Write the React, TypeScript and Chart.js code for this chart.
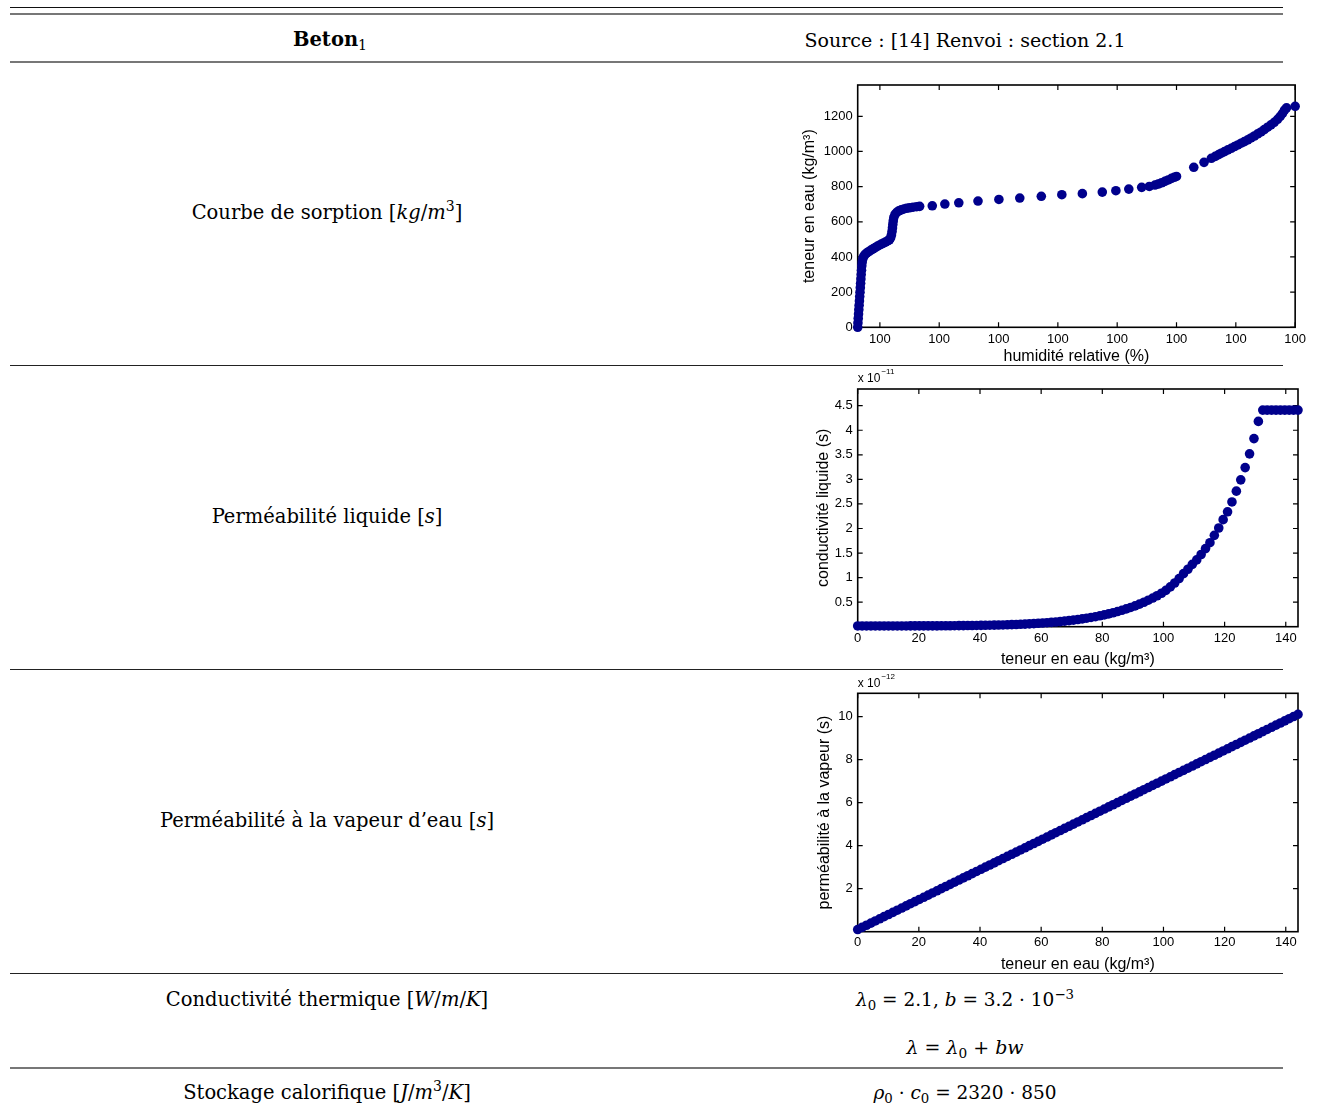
import React, { useEffect, useRef } from 'react';
import { Chart, registerables } from 'chart.js';

Chart.register(...registerables);

// ---------- Chart 1 : courbe de sorption ----------
const sorptionRH = [
  0.2626, 0.2630, 0.2635, 0.2640, 0.2645, 0.2650, 0.2655, 0.2660, 0.2665, 0.2670,
  0.2675, 0.2680, 0.2685, 0.2690, 0.2695, 0.2702, 0.2712, 0.2727, 0.2750, 0.2780,
  0.2815, 0.2850, 0.2885, 0.2920, 0.2955, 0.2990, 0.3025, 0.3060, 0.3095, 0.3130,
  0.3160, 0.3180, 0.3195, 0.3205, 0.3212, 0.3218, 0.3225, 0.3235, 0.3255, 0.3285,
  0.3320, 0.3360, 0.3405, 0.3450, 0.3500, 0.3560, 0.3620, 0.3670,
  0.3883, 0.4095, 0.4330, 0.4654, 0.5006, 0.5358, 0.5721, 0.6067, 0.6413, 0.6749,
  0.6978, 0.7196, 0.7413, 0.7542, 0.7637,
  0.7693, 0.7749, 0.7804, 0.7860, 0.7916, 0.7961, 0.8000,
  0.8291, 0.8464, 0.8587, 0.8654, 0.8710,
  0.8754, 0.8810, 0.8866, 0.8922, 0.8978, 0.9034, 0.9089, 0.9145, 0.9201, 0.9257,
  0.9313, 0.9369, 0.9425, 0.9480, 0.9536, 0.9592, 0.9648, 0.9704, 0.9749, 0.9788,
  0.9821, 0.9855, 1.0,
];
const sorptionW = [
  0, 25, 50, 75, 100, 125, 150, 175, 200, 225,
  250, 275, 300, 325, 350, 372, 390, 403, 414, 423,
  431, 439, 446, 453, 460, 467, 473, 479, 485, 491,
  498, 508, 525, 545, 565, 585, 605, 625, 642, 654,
  662, 668, 673, 677, 680, 683, 686, 688,
  691, 701, 708, 718, 727, 735, 745, 754, 760, 769,
  777, 786, 796, 801, 809,
  815, 822, 830, 838, 847, 853, 858,
  910, 938, 961, 972, 982,
  990, 999, 1009, 1018, 1028, 1037, 1047, 1056, 1066, 1077,
  1088, 1100, 1111, 1124, 1138, 1151, 1166, 1183, 1200, 1217,
  1235, 1248, 1257,
];
const sorptionXTicks = [0.3, 0.4, 0.5, 0.6, 0.7, 0.8, 0.9, 1.0];
const sorptionXTickLabels = ['100', '100', '100', '100', '100', '100', '100', '100'];
const sorptionYTicks = [0, 200, 400, 600, 800, 1000, 1200];
const sorptionYTickLabels = ['0', '200', '400', '600', '800', '1000', '1200'];

// ---------- Charts 2 & 3 : teneur en eau (kg/m3) ----------
const waterContent = [
  0, 1.44, 2.88, 4.32, 5.76, 7.2, 8.64, 10.08, 11.52, 12.96,
  14.4, 15.84, 17.28, 18.72, 20.16, 21.6, 23.04, 24.48, 25.92, 27.36,
  28.8, 30.24, 31.68, 33.12, 34.56, 36, 37.44, 38.88, 40.32, 41.76,
  43.2, 44.64, 46.08, 47.52, 48.96, 50.4, 51.84, 53.28, 54.72, 56.16,
  57.6, 59.04, 60.48, 61.92, 63.36, 64.8, 66.24, 67.68, 69.12, 70.56,
  72, 73.44, 74.88, 76.32, 77.76, 79.2, 80.64, 82.08, 83.52, 84.96,
  86.4, 87.84, 89.28, 90.72, 92.16, 93.6, 95.04, 96.48, 97.92, 99.36,
  100.8, 102.24, 103.68, 105.12, 106.56, 108, 109.44, 110.88, 112.32, 113.76,
  115.2, 116.64, 118.08, 119.52, 120.96, 122.4, 123.84, 125.28, 126.72, 128.16,
  129.6, 131.04, 132.48, 133.92, 135.36, 136.8, 138.24, 139.68, 141.12, 142.56,
  144,
];
// conductivité liquide, en unités de 1e-11 s
const liquidConductivity = [
  0.015, 0.015, 0.015, 0.015, 0.015, 0.015, 0.015, 0.015, 0.015, 0.015,
  0.015, 0.015, 0.016, 0.016, 0.016, 0.016, 0.017, 0.017, 0.017, 0.018,
  0.018, 0.019, 0.020, 0.021, 0.022, 0.023, 0.024, 0.025, 0.026, 0.028,
  0.030, 0.032, 0.034, 0.036, 0.039, 0.042, 0.045, 0.049, 0.053, 0.058,
  0.063, 0.069, 0.075, 0.081, 0.088, 0.096, 0.104, 0.113, 0.123, 0.134,
  0.146, 0.159, 0.173, 0.188, 0.204, 0.222, 0.241, 0.262, 0.284, 0.308,
  0.334, 0.362, 0.392, 0.425, 0.460, 0.498, 0.539, 0.583, 0.630, 0.681,
  0.74, 0.81, 0.89, 0.98, 1.08, 1.17, 1.27, 1.36, 1.47, 1.59,
  1.71, 1.86, 2.01, 2.18, 2.34, 2.54, 2.76, 2.99, 3.24, 3.52,
  3.83, 4.18, 4.41, 4.41, 4.41, 4.41, 4.41, 4.41, 4.41, 4.41,
  4.41,
];
// perméabilité à la vapeur, en unités de 1e-12 s
const vaporPermeability = [
  0.1, 0.2, 0.3, 0.4, 0.5, 0.6, 0.7, 0.8, 0.9, 1.0,
  1.1, 1.2, 1.3, 1.4, 1.5, 1.6, 1.7, 1.8, 1.9, 2.0,
  2.1, 2.2, 2.3, 2.4, 2.5, 2.6, 2.7, 2.8, 2.9, 3.0,
  3.1, 3.2, 3.3, 3.4, 3.5, 3.6, 3.7, 3.8, 3.9, 4.0,
  4.1, 4.2, 4.3, 4.4, 4.5, 4.6, 4.7, 4.8, 4.9, 5.0,
  5.1, 5.2, 5.3, 5.4, 5.5, 5.6, 5.7, 5.8, 5.9, 6.0,
  6.1, 6.2, 6.3, 6.4, 6.5, 6.6, 6.7, 6.8, 6.9, 7.0,
  7.1, 7.2, 7.3, 7.4, 7.5, 7.6, 7.7, 7.8, 7.9, 8.0,
  8.1, 8.2, 8.3, 8.4, 8.5, 8.6, 8.7, 8.8, 8.9, 9.0,
  9.1, 9.2, 9.3, 9.4, 9.5, 9.6, 9.7, 9.8, 9.9, 10.0,
  10.1,
];
const waterTicks = [0, 20, 40, 60, 80, 100, 120, 140];
const waterTickLabels = ['0', '20', '40', '60', '80', '100', '120', '140'];
const liquidTicks = [0.5, 1, 1.5, 2, 2.5, 3, 3.5, 4, 4.5];
const liquidTickLabels = ['0.5', '1', '1.5', '2', '2.5', '3', '3.5', '4', '4.5'];
const vaporTicks = [2, 4, 6, 8, 10];
const vaporTickLabels = ['2', '4', '6', '8', '10'];

const MARKER = '#00008c';
const SANS = '"Liberation Sans", Arial, Helvetica, sans-serif';
const SERIF = '"DejaVu Serif", serif';

const framePlugin = {
  id: 'frame',
  beforeDatasetsDraw(chart: any, _args: any, opts: any) {
    const { ctx, chartArea: a, scales } = chart;
    ctx.save();
    ctx.strokeStyle = '#000';
    ctx.lineWidth = 1.6;
    ctx.strokeRect(a.left, a.top, a.right - a.left, a.bottom - a.top);
    const L = 5;
    ctx.lineWidth = 1.2;
    ctx.beginPath();
    for (const t of scales.x.ticks) {
      const px = scales.x.getPixelForValue(t.value);
      ctx.moveTo(px, a.bottom);
      ctx.lineTo(px, a.bottom - L);
      ctx.moveTo(px, a.top);
      ctx.lineTo(px, a.top + L);
    }
    for (const t of scales.y.ticks) {
      const py = scales.y.getPixelForValue(t.value);
      ctx.moveTo(a.left, py);
      ctx.lineTo(a.left + L, py);
      ctx.moveTo(a.right, py);
      ctx.lineTo(a.right - L, py);
    }
    ctx.stroke();
    if (opts && opts.exponent) {
      ctx.fillStyle = '#000';
      ctx.textAlign = 'left';
      ctx.textBaseline = 'middle';
      ctx.font = `12px ${SANS}`;
      ctx.fillText('x 10', a.left, a.top - 10);
      const w = ctx.measureText('x 10').width;
      ctx.font = `8px ${SANS}`;
      ctx.fillText(opts.exponent, a.left + w + 1, a.top - 17);
    }
    ctx.restore();
  },
};

type PlotProps = {
  left: number; top: number; w: number; h: number;
  padTop: number; padRight: number; yWidth: number; xHeight: number;
  xs: number[]; ys: number[];
  xMin: number; xMax: number; yMin: number; yMax: number;
  xTicks: number[]; xLabels: string[]; yTicks: number[]; yLabels: string[];
  xTitle: string; yTitle: string;
  xPad: number; xTitlePad: number; yPad: number; yTitlePad: number;
  exponent?: string;
};

function ScatterPlot(p: PlotProps) {
  const ref = useRef<HTMLCanvasElement>(null);
  useEffect(() => {
    const data = p.xs.map((x, i) => ({ x, y: p.ys[i] }));
    const chart = new Chart(ref.current as HTMLCanvasElement, {
      type: 'scatter',
      data: {
        datasets: [{
          data,
          pointRadius: 4.8,
          pointHoverRadius: 4.8,
          pointBackgroundColor: MARKER,
          pointBorderColor: MARKER,
          pointBorderWidth: 0,
          showLine: false,
          clip: false,
        } as any],
      },
      options: {
        animation: false,
        responsive: false,
        devicePixelRatio: 1,
        events: [],
        layout: { padding: { top: p.padTop, right: p.padRight, left: 0, bottom: 0 } },
        plugins: {
          legend: { display: false },
          tooltip: { enabled: false },
          frame: { exponent: p.exponent },
        } as any,
        scales: {
          x: {
            type: 'linear',
            bounds: 'data',
            min: p.xMin,
            max: p.xMax,
            afterBuildTicks: (s: any) => { s.ticks = p.xTicks.map((v) => ({ value: v })); },
            afterFit: (s: any) => { s.height = p.xHeight; },
            grid: { display: false, drawTicks: false },
            border: { display: false },
            ticks: {
              autoSkip: false, maxRotation: 0, minRotation: 0, padding: p.xPad,
              color: '#000', font: { family: SANS, size: 13 },
              callback: (_v: any, i: number) => p.xLabels[i],
            },
            title: {
              display: true, text: p.xTitle, color: '#000',
              font: { family: SANS, size: 16 }, padding: { top: 0, bottom: p.xTitlePad },
            },
          },
          y: {
            type: 'linear',
            bounds: 'data',
            min: p.yMin,
            max: p.yMax,
            afterBuildTicks: (s: any) => { s.ticks = p.yTicks.map((v) => ({ value: v })); },
            afterFit: (s: any) => { s.width = p.yWidth; },
            grid: { display: false, drawTicks: false },
            border: { display: false },
            ticks: {
              autoSkip: false, padding: p.yPad,
              color: '#000', font: { family: SANS, size: 13 },
              callback: (_v: any, i: number) => p.yLabels[i],
            },
            title: {
              display: true, text: p.yTitle, color: '#000',
              font: { family: SANS, size: 16 }, padding: { top: p.yTitlePad, bottom: 0 },
            },
          },
        },
      } as any,
      plugins: [framePlugin as any],
    });
    return () => chart.destroy();
  }, []);
  return (
    <canvas
      ref={ref}
      width={p.w}
      height={p.h}
      style={{ position: 'absolute', left: p.left, top: p.top, width: p.w, height: p.h }}
    />
  );
}

function Rule({ y, h, color }: { y: number; h: number; color: string }) {
  return <div style={{ position: 'absolute', left: 10, top: y, width: 1273, height: h, background: color }} />;
}

function Cell({ cx, cy, size, children }: { cx: number; cy: number; size?: number; children: React.ReactNode }) {
  return (
    <div
      style={{
        position: 'absolute', left: cx - 330, top: cy - 15, width: 660, height: 30,
        lineHeight: '30px', textAlign: 'center', fontFamily: SERIF, fontSize: size || 19.5,
        whiteSpace: 'nowrap', color: '#000',
      }}
    >
      {children}
    </div>
  );
}

const supStyle: React.CSSProperties = { fontSize: '0.72em', verticalAlign: '0.55em', lineHeight: 0 };
const subStyle: React.CSSProperties = { fontSize: '0.72em', verticalAlign: '-0.3em', lineHeight: 0 };

export default function App() {
  return (
    <div style={{ position: 'absolute', left: 0, top: 0, width: 1323, height: 1115, overflow: 'hidden', background: '#fff' }}>
      <Rule y={7} h={1} color="#111" />
      <Rule y={13} h={2} color="#777" />
      <Rule y={61} h={2} color="#777" />
      <Rule y={365} h={1} color="#222" />
      <Rule y={669} h={1} color="#222" />
      <Rule y={973} h={1} color="#222" />
      <Rule y={1067} h={2} color="#777" />

      <Cell cx={330} cy={40}><b>Beton</b><span style={subStyle}>1</span></Cell>
      <Cell cx={965} cy={40} size={19}>Source : [14] Renvoi : section 2.1</Cell>

      <Cell cx={327} cy={213}>Courbe de sorption [<i>kg</i>/<i>m</i><span style={supStyle}>3</span>]</Cell>
      <Cell cx={327} cy={517}>Perméabilité liquide [<i>s</i>]</Cell>
      <Cell cx={327} cy={821}>Perméabilité à la vapeur d’eau [<i>s</i>]</Cell>
      <Cell cx={327} cy={1000}>Conductivité thermique [<i>W</i>/<i>m</i>/<i>K</i>]</Cell>
      <Cell cx={965} cy={1000} size={18.5}><i>λ</i><span style={subStyle}>0</span> = 2.1, <i>b</i> = 3.2 · 10<span style={supStyle}>−3</span></Cell>
      <Cell cx={965} cy={1047} size={19}><i>λ</i> = <i>λ</i><span style={subStyle}>0</span> + <i>bw</i></Cell>
      <Cell cx={327} cy={1093}>Stockage calorifique [<i>J</i>/<i>m</i><span style={supStyle}>3</span>/<i>K</i>]</Cell>
      <Cell cx={965} cy={1093} size={18.5}><i>ρ</i><span style={subStyle}>0</span> · <i>c</i><span style={subStyle}>0</span> = 2320 · 850</Cell>

      <ScatterPlot
        left={790} top={70} w={520} h={298}
        padTop={15} padRight={12} yWidth={67.7} xHeight={40.7}
        xs={sorptionRH} ys={sorptionW}
        xMin={0.2626} xMax={1.0} yMin={0} yMax={1378}
        xTicks={sorptionXTicks} xLabels={sorptionXTickLabels}
        yTicks={sorptionYTicks} yLabels={sorptionYTickLabels}
        xTitle="humidité relative (%)" yTitle="teneur en eau (kg/m³)"
        xPad={4} xTitlePad={1.7} yPad={5} yTitlePad={10.4}
      />
      <ScatterPlot
        left={790} top={364} w={520} h={308}
        padTop={25} padRight={12} yWidth={67.7} xHeight={45.3}
        xs={waterContent} ys={liquidConductivity}
        xMin={0} xMax={144} yMin={0} yMax={4.84}
        xTicks={waterTicks} xLabels={waterTickLabels}
        yTicks={liquidTicks} yLabels={liquidTickLabels}
        xTitle="teneur en eau (kg/m³)" yTitle="conductivité liquide (s)"
        xPad={3.8} xTitlePad={2.4} yPad={5} yTitlePad={23.7}
        exponent="−11"
      />
      <ScatterPlot
        left={790} top={668} w={520} h={308}
        padTop={25.3} padRight={12} yWidth={67.7} xHeight={44.3}
        xs={waterContent} ys={vaporPermeability}
        xMin={0} xMax={144} yMin={0} yMax={11.08}
        xTicks={waterTicks} xLabels={waterTickLabels}
        yTicks={vaporTicks} yLabels={vaporTickLabels}
        xTitle="teneur en eau (kg/m³)" yTitle="perméabilité à la vapeur (s)"
        xPad={3.2} xTitlePad={1.4} yPad={5} yTitlePad={25.4}
        exponent="−12"
      />
    </div>
  );
}
